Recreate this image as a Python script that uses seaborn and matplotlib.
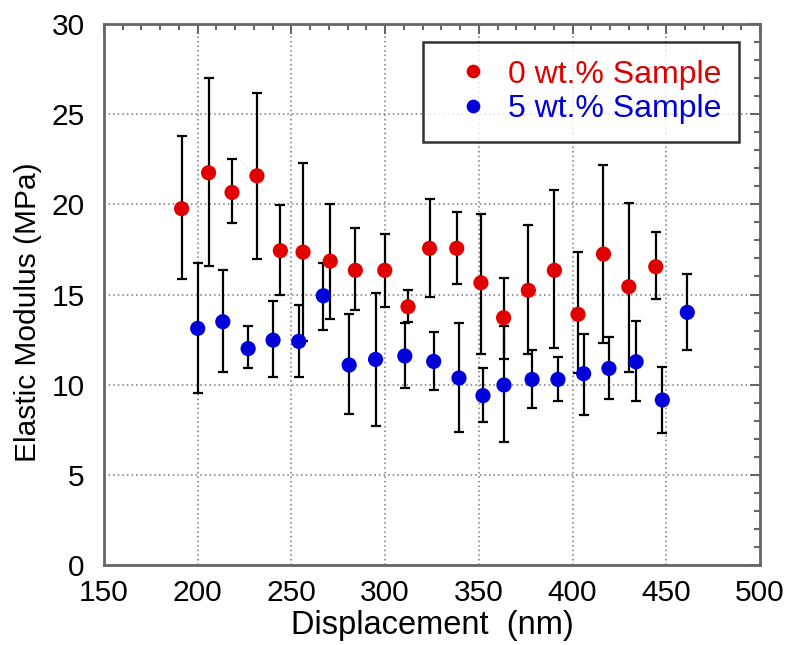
import matplotlib
matplotlib.use("Agg")
import matplotlib.pyplot as plt
import seaborn as sns
import pandas as pd
import numpy as np
from matplotlib.ticker import MultipleLocator

# ---- data ----
x_red = [191.4, 205.8, 218.3, 231.6, 244.1, 256.2, 270.7, 284.1, 299.8, 312.2,
         323.7, 338.2, 351.1, 363.2, 376.4, 390.3, 402.9, 416.5, 430.0, 444.4]
y_red = [19.76, 21.75, 20.66, 21.58, 17.43, 17.35, 16.85, 16.34, 16.34, 14.32,
         17.56, 17.56, 15.65, 13.71, 15.23, 16.34, 13.90, 17.24, 15.43, 16.54]
hi_red = [23.80, 27.03, 22.50, 26.20, 19.99, 22.30, 20.00, 18.67, 18.37, 15.23,
          20.29, 19.57, 19.48, 15.93, 18.87, 20.81, 17.37, 22.19, 20.09, 18.48]
lo_red = [15.85, 16.56, 18.98, 16.95, 14.95, 12.42, 13.64, 14.14, 14.32, 13.45,
          14.84, 15.56, 11.72, 11.42, 11.72, 12.01, 10.63, 12.33, 10.72, 14.73]

x_blue = [200.0, 213.4, 226.9, 240.2, 253.9, 267.0, 280.8, 294.9, 310.5, 325.9,
          339.4, 352.2, 363.4, 378.4, 392.2, 405.9, 419.4, 433.9, 447.9, 461.2]
y_blue = [13.12, 13.49, 12.00, 12.47, 12.40, 14.93, 11.09, 11.40, 11.59, 11.29,
          10.37, 9.39, 9.98, 10.29, 10.29, 10.61, 10.90, 11.27, 9.15, 14.01]
hi_blue = [16.74, 16.35, 13.23, 14.63, 14.41, 16.74, 13.94, 15.06, 13.43, 12.94,
           13.43, 10.90, 13.25, 11.92, 11.51, 12.81, 12.66, 13.55, 11.00, 16.15]
lo_blue = [9.52, 10.72, 10.90, 10.40, 10.40, 13.03, 8.39, 7.69, 9.80, 9.70,
           7.39, 7.91, 6.80, 8.69, 9.09, 8.31, 9.20, 9.09, 7.30, 11.94]

series_names = ["0 wt.% Sample", "5 wt.% Sample"]
series_colors = ["#E00000", "#0000D8"]
x_ticks = [150, 200, 250, 300, 350, 400, 450, 500]
y_ticks = [0, 5, 10, 15, 20, 25, 30]

df = pd.concat([
    pd.DataFrame({"x": x_red, "y": y_red, "lo": lo_red, "hi": hi_red, "s": series_names[0]}),
    pd.DataFrame({"x": x_blue, "y": y_blue, "lo": lo_blue, "hi": hi_blue, "s": series_names[1]}),
], ignore_index=True)

sns.set_style("white")
plt.rcParams["font.family"] = ["Liberation Sans", "DejaVu Sans"]
plt.rcParams["text.color"] = "black"
plt.rcParams["axes.labelcolor"] = "black"
plt.rcParams["xtick.color"] = "black"
plt.rcParams["ytick.color"] = "black"

fig = plt.figure(figsize=(7.89, 6.45), dpi=100)
ax = fig.add_axes([104 / 789, 80 / 645, 656 / 789, 541 / 645])

# error bars
for name in series_names:
    d = df[df["s"] == name]
    ax.errorbar(d["x"], d["y"], yerr=[d["y"] - d["lo"], d["hi"] - d["y"]],
                fmt="none", ecolor="black", elinewidth=1.6, capsize=3.4,
                capthick=1.6, zorder=2)

sns.scatterplot(data=df, x="x", y="y", hue="s", palette=series_colors,
                hue_order=series_names, s=120, edgecolor="none", marker="o",
                ax=ax, zorder=3, legend=True)

ax.set_xlim(150, 500)
ax.set_ylim(0, 30)
ax.set_xticks(x_ticks)
ax.set_yticks(y_ticks)
ax.xaxis.set_minor_locator(MultipleLocator(10))
ax.yaxis.set_minor_locator(MultipleLocator(1))
ax.tick_params(which="both", direction="in", top=True, right=True,
               color="#666666", width=1.5, labelcolor="black")
ax.tick_params(which="major", length=7, labelsize=21.5)
ax.tick_params(axis="y", which="major", pad=14)
ax.tick_params(axis="x", which="major", pad=10)
ax.tick_params(which="minor", length=4)
for sp in ax.spines.values():
    sp.set_color("#666666")
    sp.set_linewidth(2)
ax.grid(True, which="major", linestyle=(0, (1, 2)), color="#777777", linewidth=1.1)
ax.set_axisbelow(True)

ax.set_xlabel("Displacement  (nm)", fontsize=23.5, labelpad=2, color="black")
ax.set_ylabel("Elastic Modulus (MPa)", fontsize=21.5, color="black")
ax.yaxis.set_label_coords((42 - 104) / 656, (565 - 312) / 541)

handles, labels = ax.get_legend_handles_labels()
leg = ax.legend(handles, series_names, loc="upper right",
                bbox_to_anchor=((739 - 104) / 656, (645 - 42 - 80) / 541),
                fontsize=23, frameon=True, fancybox=False, edgecolor="black",
                handletextpad=0.1, markerscale=0.9, borderpad=0.55,
                labelspacing=0.15, handlelength=2.0, borderaxespad=0)
leg.get_frame().set_linewidth(1.8)
for t, c in zip(leg.get_texts(), series_colors):
    t.set_color(c)

fig.savefig("out.png", dpi=100)
